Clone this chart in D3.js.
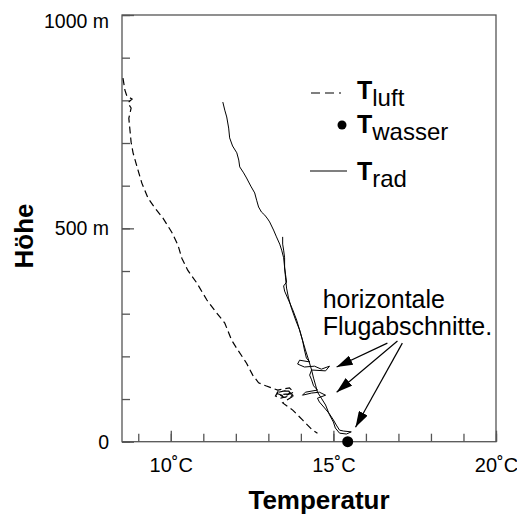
<!DOCTYPE html>
<html>
<head>
<meta charset="utf-8">
<script src="https://cdn.jsdelivr.net/npm/d3@7"></script>
<style>
  body { margin: 0; background: #fff; }
  svg { display: block; }
  text { font-family: Arial, "Liberation Sans", sans-serif; fill: #000; }
</style>
</head>
<body>
<div id="chart"></div>
<script>
// Tick values
const xMinorTicks = d3.range(9, 21);
const xMajorTicks = [10, 15, 20];
const yMinorTicks = d3.range(0, 1001, 100);
const yMajorTicks = [0, 500, 1000];

// T_luft (dashed): [Temperatur °C, Höhe m]
const luft = [
  [8.53, 852], [8.59, 824], [8.65, 810], [8.81, 803], [8.68, 794], [8.78, 782],
  [8.71, 758], [8.75, 726], [8.78, 702], [8.84, 677], [8.99, 637], [9.11, 606],
  [9.30, 571], [9.51, 548], [9.76, 524], [10.03, 491], [10.22, 461], [10.34, 430],
  [10.52, 402], [10.80, 372], [11.11, 332], [11.41, 302], [11.66, 278], [11.87, 238],
  [12.06, 215], [12.33, 184], [12.52, 156], [12.70, 138], [12.92, 131], [13.10, 126],
  [13.29, 121], [13.65, 126], [13.78, 116], [13.50, 107], [13.22, 114], [13.59, 121],
  [13.75, 109], [13.38, 102], [13.22, 107], [13.30, 118], [13.70, 119], [13.62, 112],
  [13.35, 110], [13.48, 104], [13.72, 105], [13.44, 91], [13.75, 74], [14.05, 51],
  [14.36, 27], [14.51, 20]
];

// T_rad (solid): descent, horizontal legs, ascent
const rad = [
  [11.60, 796], [11.66, 777], [11.72, 761], [11.78, 735], [11.81, 712], [11.90, 693],
  [12.03, 677], [12.09, 660], [12.12, 644], [12.24, 630], [12.33, 618], [12.46, 599],
  [12.58, 583], [12.64, 566], [12.70, 550], [12.79, 538], [12.89, 531], [12.98, 522],
  [13.04, 515], [13.16, 496], [13.25, 480], [13.35, 463], [13.41, 449], [13.47, 431],
  [13.50, 409], [13.53, 391], [13.56, 374], [13.47, 365], [13.50, 353], [13.62, 332],
  [13.75, 309], [13.87, 285], [13.96, 262], [14.05, 238], [14.11, 215], [14.17, 196],
  [14.27, 187], [13.96, 191], [13.90, 182], [14.11, 175], [14.42, 177], [14.63, 170],
  [14.88, 177], [14.76, 166], [14.33, 168], [14.27, 156], [14.33, 145], [14.39, 131],
  [14.51, 121], [14.14, 116], [14.05, 109], [14.33, 114], [14.57, 116], [14.76, 109],
  [14.51, 102], [14.57, 93], [14.73, 79], [14.88, 65], [15.00, 51], [15.09, 39],
  [15.19, 27], [15.31, 25], [15.55, 23], [15.40, 18], [15.19, 20], [15.06, 32],
  [15.00, 46], [14.88, 63], [14.76, 86], [14.63, 102], [14.51, 116], [14.45, 133],
  [14.39, 149], [14.33, 168], [14.24, 191], [14.14, 215], [14.05, 238], [13.96, 262],
  [13.84, 285], [13.71, 313], [13.62, 337], [13.56, 360], [13.53, 384], [13.50, 407],
  [13.50, 431], [13.47, 449], [13.44, 463], [13.44, 480]
];

// T_wasser (point)
const wasser = [[15.44, 0]];

// Annotation: arrow [from, to] in data units
const arrows = [
  [[16.66, 231], [15.10, 175]],
  [[16.97, 236], [15.10, 116]],
  [[17.12, 231], [15.68, 34]]
];
const noteLines = ["horizontale", "Flugabschnitte."];
const noteAt = [14.67, 313];

const width = 517, height = 519;
const x = d3.scaleLinear().domain([8.5, 20]).range([122, 496]);
const y = d3.scaleLinear().domain([0, 1000]).range([441.7, 15]);
const axisColor = "#555";

const svg = d3.select("#chart").append("svg")
  .attr("width", width)
  .attr("height", height);

// arrow head
svg.append("defs").append("marker")
  .attr("id", "head")
  .attr("viewBox", "0 0 16 10")
  .attr("refX", 16).attr("refY", 5)
  .attr("markerWidth", 16).attr("markerHeight", 10)
  .attr("markerUnits", "userSpaceOnUse")
  .attr("orient", "auto")
  .append("path")
  .attr("d", "M0,0 L16,5 L0,10 Z")
  .attr("fill", "#000");

// frame
svg.append("rect")
  .attr("x", x(8.5)).attr("y", y(1000))
  .attr("width", x(20) - x(8.5)).attr("height", y(0) - y(1000))
  .attr("fill", "none").attr("stroke", axisColor).attr("stroke-width", 1.3);

// x axis ticks (inside, pointing up)
const xMinor = svg.append("g")
  .attr("transform", `translate(0,${y(0)})`)
  .call(d3.axisBottom(x).tickValues(xMinorTicks).tickSize(-8).tickFormat(""));
const xMajor = svg.append("g")
  .attr("transform", `translate(0,${y(0)})`)
  .call(d3.axisBottom(x).tickValues(xMajorTicks).tickSize(-11).tickPadding(16)
    .tickFormat(d => d + "˚C"));
[xMinor, xMajor].forEach(g => {
  g.select(".domain").remove();
  g.selectAll("line").attr("stroke", axisColor).attr("stroke-width", 1.3);
});
xMajor.selectAll("text").style("font-size", "20px").attr("fill", "#000");

// y axis ticks (inside, pointing right)
const yMinor = svg.append("g")
  .attr("transform", `translate(${x(8.5)},0)`)
  .call(d3.axisLeft(y).tickValues(yMinorTicks).tickSize(-8).tickFormat(""));
const yMajor = svg.append("g")
  .attr("transform", `translate(${x(8.5)},0)`)
  .call(d3.axisLeft(y).tickValues(yMajorTicks).tickSize(-12).tickPadding(13)
    .tickFormat(d => d === 0 ? "0" : d + " m"));
[yMinor, yMajor].forEach(g => {
  g.select(".domain").remove();
  g.selectAll("line").attr("stroke", axisColor).attr("stroke-width", 1.3);
});
yMajor.selectAll("text")
  .style("font-size", "19.5px").attr("fill", "#000")
  .attr("dy", d => d === 1000 ? "0.62em" : "0.34em");

// axis titles
svg.append("text")
  .attr("x", 319).attr("y", 509)
  .attr("text-anchor", "middle")
  .style("font-size", "26px").style("font-weight", "bold")
  .text("Temperatur");
svg.append("text")
  .attr("transform", "translate(33,236) rotate(-90)")
  .attr("text-anchor", "middle")
  .style("font-size", "26px").style("font-weight", "bold")
  .text("Höhe");

// curves
const line = d3.line().x(d => x(d[0])).y(d => y(d[1]));
svg.append("path")
  .datum(luft)
  .attr("d", line)
  .attr("fill", "none").attr("stroke", "#000")
  .attr("stroke-width", 1.2)
  .attr("stroke-dasharray", "7,4");
svg.append("path")
  .datum(rad)
  .attr("d", line)
  .attr("fill", "none").attr("stroke", "#000")
  .attr("stroke-width", 1);
svg.selectAll(".wasser")
  .data(wasser).enter().append("circle")
  .attr("cx", d => x(d[0])).attr("cy", d => y(d[1]))
  .attr("r", 5.5).attr("fill", "#000");

// annotation
svg.append("text")
  .attr("x", x(noteAt[0])).attr("y", y(noteAt[1]))
  .style("font-size", "25px")
  .selectAll("tspan").data(noteLines).enter().append("tspan")
  .attr("x", x(noteAt[0]))
  .attr("dy", (d, i) => i === 0 ? 0 : 27)
  .text(d => d);
svg.selectAll(".arrow")
  .data(arrows).enter().append("line")
  .attr("x1", d => x(d[0][0])).attr("y1", d => y(d[0][1]))
  .attr("x2", d => x(d[1][0])).attr("y2", d => y(d[1][1]))
  .attr("stroke", "#000").attr("stroke-width", 1.2)
  .attr("marker-end", "url(#head)");

// legend
const legend = svg.append("g");
const legendRows = [
  { sub: "luft", base: 99, kind: "dash" },
  { sub: "wasser", base: 133, kind: "dot" },
  { sub: "rad", base: 180, kind: "solid" }
];
legendRows.forEach(r => {
  if (r.kind === "dash") {
    legend.append("line")
      .attr("x1", 311).attr("x2", 352).attr("y1", r.base - 6).attr("y2", r.base - 6)
      .attr("stroke", "#000").attr("stroke-width", 1.2)
      .attr("stroke-dasharray", "9,5,9,5,2,20");
  } else if (r.kind === "dot") {
    legend.append("circle")
      .attr("cx", 342).attr("cy", r.base - 8).attr("r", 4.5).attr("fill", "#000");
  } else {
    legend.append("line")
      .attr("x1", 310).attr("x2", 347).attr("y1", r.base - 9).attr("y2", r.base - 9)
      .attr("stroke", "#000").attr("stroke-width", 1.2);
  }
  const t = legend.append("text").attr("x", 357).attr("y", r.base);
  t.append("tspan").style("font-size", "25px").style("font-weight", "bold").text("T");
  t.append("tspan").style("font-size", "24px").attr("dy", 7).text(r.sub);
});
</script>
</body>
</html>
